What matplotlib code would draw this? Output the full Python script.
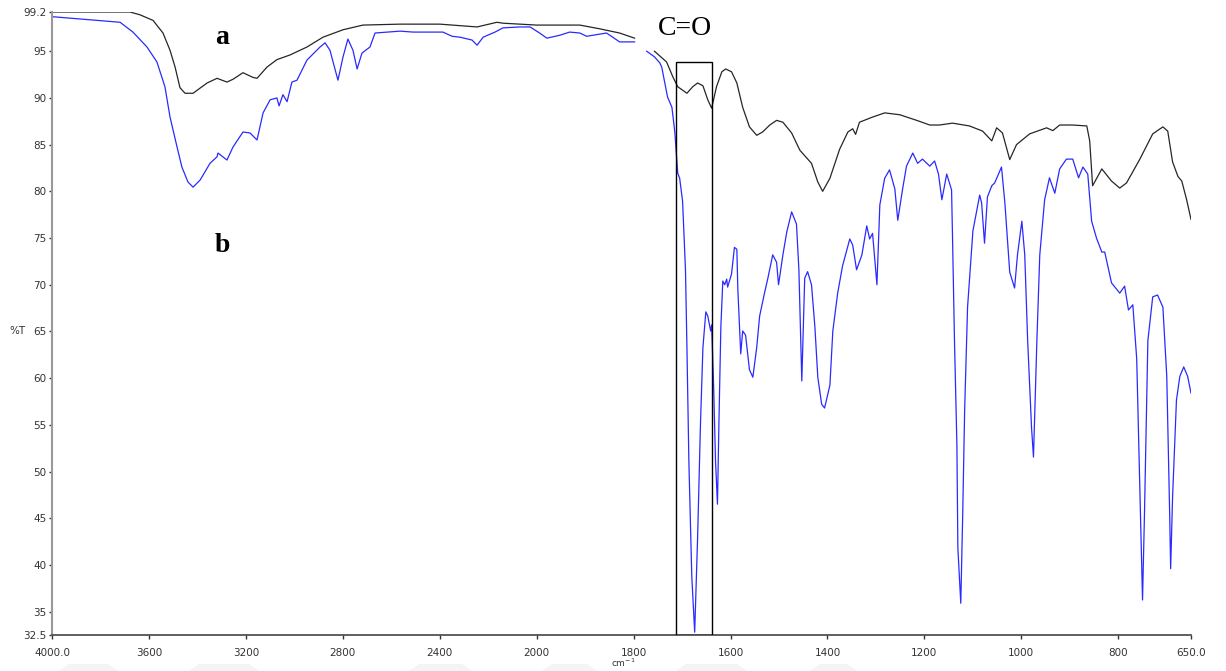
import numpy as np
import matplotlib
matplotlib.use("Agg")
import matplotlib.pyplot as plt
from matplotlib.patches import Rectangle, Polygon

# spectrum a (black), gap near 1790 cm-1 as in the instrument plot
a_wn = [4000, 3678, 3637, 3583, 3542, 3513, 3492, 3472, 3451, 3418, 3360, 3319, 3278,
        3253, 3212, 3171, 3154, 3113, 3072, 3018, 2948, 2882, 2799, 2717, 2564, 2399,
        2246, 2164, 2139, 2069, 2000, 1973, 1911, 1870, 1829, 1798, 1780,
        1757, 1732, 1719, 1709, 1690, 1678, 1668, 1657, 1647, 1639, 1629, 1618, 1610,
        1598, 1587, 1575, 1561, 1546, 1534, 1519, 1505, 1492, 1474, 1457, 1433, 1420,
        1410, 1395, 1375, 1358, 1348, 1342, 1334, 1307, 1282, 1251, 1216, 1189, 1169,
        1142, 1107, 1080, 1061, 1051, 1039, 1024, 1010, 983, 948, 935, 921, 894, 865,
        859, 853, 834, 814, 797, 783, 756, 729, 708, 698, 688, 677, 669, 659, 650]
a_t = [99.2, 99.2, 98.9, 98.3, 96.95, 95.1, 93.3, 91.1, 90.5, 90.5, 91.6, 92.1, 91.7,
       92.0, 92.7, 92.2, 92.1, 93.3, 94.1, 94.6, 95.45, 96.5, 97.3, 97.8, 97.9, 97.9,
       97.6, 98.1, 98.0, 97.9, 97.8, 97.8, 97.8, 97.4, 96.95, 96.4, np.nan,
       95.0, 93.85, 92.25, 91.2, 90.5, 91.2, 91.6, 91.3, 89.8, 88.9, 91.2, 92.8, 93.1,
       92.8, 91.6, 89.0, 86.9, 86.0, 86.35, 87.1, 87.6, 87.4, 86.25, 84.4, 83.0, 81.0,
       80.0, 81.4, 84.5, 86.35, 86.7, 86.1, 87.4, 87.95, 88.4, 88.2, 87.6, 87.1, 87.1,
       87.3, 87.0, 86.45, 85.4, 86.8, 86.25, 83.4, 85.0, 86.15, 86.8, 86.5, 87.1, 87.1, 87.0,
       85.4, 80.6, 82.4, 81.1, 80.35, 80.9, 83.4, 86.15, 86.9, 86.45, 83.15, 81.6, 81.1, 79.1, 77.0]

# spectrum b (blue)
b_wn = [4000, 3719, 3666, 3608, 3567, 3534, 3513, 3484, 3464, 3439, 3418, 3389, 3348,
        3319, 3315, 3278, 3253, 3212, 3183, 3154, 3129, 3100, 3072, 3063, 3047, 3030,
        3010, 2989, 2948, 2894, 2873, 2853, 2820, 2799, 2779, 2758, 2741, 2721, 2688,
        2667, 2564, 2510, 2387, 2349, 2316, 2267, 2246, 2221, 2172, 2139, 2069, 2027,
        1994, 1979, 1953, 1932, 1911, 1897, 1856, 1843, 1829, 1798, 1785,
        1773, 1757, 1746, 1742, 1730, 1721, 1715, 1709, 1705, 1699, 1693, 1690, 1686,
        1680, 1674, 1668, 1662, 1657, 1651, 1647, 1641, 1639, 1635, 1631, 1627, 1624,
        1620, 1616, 1612, 1608, 1606, 1598, 1592, 1587, 1585, 1579, 1575, 1569, 1561,
        1554, 1546, 1540, 1530, 1523, 1513, 1505, 1501, 1492, 1484, 1474, 1464, 1459,
        1453, 1447, 1441, 1433, 1426, 1420, 1412, 1406, 1395, 1389, 1379, 1369, 1354,
        1348, 1340, 1329, 1319, 1313, 1307, 1298, 1292, 1282, 1272, 1261, 1255, 1245,
        1237, 1224, 1214, 1204, 1189, 1179, 1171, 1164, 1154, 1144, 1142, 1138, 1133,
        1131, 1125, 1121, 1117, 1111, 1100, 1086, 1082, 1076, 1070, 1061, 1055, 1041,
        1034, 1024, 1014, 1008, 999, 993, 987, 979, 975, 968, 962, 952, 942, 931, 921,
        907, 894, 882, 873, 863, 855, 845, 834, 828, 814, 797, 787, 779, 770, 762, 756,
        750, 746, 739, 729, 719, 708, 700, 694, 692, 688, 680, 673, 665, 657, 650]
b_t = [98.7, 98.1, 97.05, 95.45, 93.85, 91.2, 87.95, 84.75, 82.6, 81.0, 80.45, 81.2, 83.0,
       83.7, 84.1, 83.35, 84.75, 86.35, 86.25, 85.5, 88.4, 89.8, 90.0, 89.15, 90.35, 89.6,
       91.7, 91.9, 94.05, 95.45, 95.9, 95.1, 91.9, 94.4, 96.3, 95.1, 93.1, 94.8, 95.45,
       96.95, 97.15, 97.05, 97.05, 96.6, 96.5, 96.2, 95.65, 96.5, 97.05, 97.5, 97.6, 97.6,
       96.95, 96.4, 96.7, 97.05, 96.95, 96.6, 96.95, 96.5, 96.0, 96.0, np.nan,
       95.0, 94.4, 93.75, 93.3, 90.1, 89.0, 86.35, 81.95, 81.4, 78.95, 71.6, 63.3, 51.1,
       38.8, 32.8, 42.9, 55.2, 63.3, 67.1, 66.65, 65.05, 65.7, 59.25, 51.1, 46.5, 55.2,
       65.5, 70.4, 70.0, 70.6, 69.75, 71.15, 74.0, 73.8, 69.55, 62.6, 65.05, 64.6, 60.9,
       60.1, 63.3, 66.65, 69.1, 70.7, 73.2, 72.4, 70.0, 73.2, 75.65, 77.8, 76.5, 71.6,
       59.7, 70.7, 71.4, 70.0, 65.5, 60.1, 57.2, 56.8, 59.25, 65.05, 69.1, 72.0, 74.9,
       74.25, 71.6, 73.2, 76.3, 74.9, 75.5, 70.0, 78.55, 81.4, 82.3, 80.25, 76.9, 80.25,
       82.7, 84.1, 83.0, 83.45, 82.7, 83.25, 81.85, 79.1, 81.85, 80.15, 75.0, 64.0, 52.85,
       41.8, 35.9, 45.45, 56.6, 67.6, 75.75, 79.6, 78.75, 74.45, 79.4, 80.6, 80.9, 82.6,
       78.75, 71.35, 69.65, 73.2, 76.8, 73.2, 64.0, 54.7, 51.55, 64.0, 73.2, 79.1, 81.45, 79.8, 82.4,
       83.45, 83.45, 81.45, 82.6, 81.85, 76.8, 75.0, 73.5, 73.5, 70.2, 69.1, 69.85, 67.3, 67.85, 62.05, 49.2,
       36.25, 45.45, 64.0, 68.7, 68.9, 67.6, 60.2, 45.45, 39.6, 47.3, 57.65, 60.2, 61.2, 60.2, 58.4]

x_ticks = [4000, 3600, 3200, 2800, 2400, 2000, 1800, 1600, 1400, 1200, 1000, 800, 650]
x_labels = ["4000.0", "3600", "3200", "2800", "2400", "2000", "1800", "1600",
            "1400", "1200", "1000", "800", "650.0"]
y_ticks = [99.2, 95, 90, 85, 80, 75, 70, 65, 60, 55, 50, 45, 40, 35, 32.5]
y_labels = ["99.2", "95", "90", "85", "80", "75", "70", "65", "60", "55", "50",
            "45", "40", "35", "32.5"]

# carbonyl band marked with a box
co_box = (1712, 1638, 93.85)


# the x axis is stretched two-fold below 2000 cm-1
def fwd(x):
    x = np.asarray(x, dtype=float)
    return np.where(x >= 2000, x, 2 * x - 2000)


def inv(u):
    u = np.asarray(u, dtype=float)
    return np.where(u >= 2000, u, (u + 2000) / 2)


tick_font = ["Liberation Sans Narrow", "DejaVu Sans"]
serif = ["Liberation Serif", "DejaVu Serif"]

fig = plt.figure(figsize=(12.26, 6.71), dpi=100)
ax = fig.add_axes([52 / 1226, 36 / 671, 1139 / 1226, 623 / 671])
ax.set_xscale("function", functions=(fwd, inv))
ax.set_xlim(4000, 650)
ax.set_ylim(32.5, 99.2)

ax.plot(a_wn, a_t, color="#262626", lw=0.9)
ax.plot(b_wn, b_t, color="#2a2aff", lw=0.9)

ax.add_patch(Rectangle((co_box[1], 32.5), co_box[0] - co_box[1], co_box[2] - 32.5,
                       fill=False, edgecolor="black", lw=1.0, zorder=3))

ax.text(3298, 96.5, "a", fontsize=20, fontweight="bold", family=serif,
        ha="center", va="center")
ax.text(3298, 74.25, "b", fontsize=20, fontweight="bold", family=serif,
        ha="center", va="center")
ax.text(1695, 97.4, "C=O", fontsize=20, family=serif, ha="center", va="center")

ax.set_xticks(x_ticks)
ax.set_xticklabels(x_labels)
ax.set_yticks(y_ticks)
ax.set_yticklabels(y_labels)
ax.minorticks_off()
for lab in ax.get_xticklabels() + ax.get_yticklabels():
    lab.set_family(tick_font)
    lab.set_fontsize(7.5)
    lab.set_color("#333333")
ax.tick_params(axis="y", length=2, width=1, pad=2, colors="#333333")
ax.tick_params(axis="x", length=3, width=1, pad=6, colors="#333333")

ax.spines["top"].set_visible(False)
ax.spines["right"].set_visible(False)
ax.spines["left"].set_color("#999999")
ax.spines["left"].set_linewidth(1.5)
ax.spines["bottom"].set_color("#444444")
ax.spines["bottom"].set_linewidth(1.2)

fig.text(17 / 1226, 1 - 331 / 671, "%T", family=tick_font, fontsize=7.5,
         ha="center", va="center", color="#333333")
fig.text(623 / 1226, 1 - 663 / 671, "cm$^{-1}$", family=tick_font, fontsize=6.5,
         ha="center", va="center", color="#333333")

# faint watermark shapes along the lower edge
for x0, x1 in [(59, 118), (189, 259), (409, 472), (542, 597), (676, 747), (810, 857)]:
    fig.patches.append(Polygon([(x0 / 1226, 0), (x1 / 1226, 0), ((x1 - 10) / 1226, 7 / 671),
                                ((x0 + 10) / 1226, 7 / 671)], closed=True,
                               transform=fig.transFigure, facecolor="#f4f4f4",
                               edgecolor="none", zorder=0))

fig.savefig("out.png", dpi=100)
